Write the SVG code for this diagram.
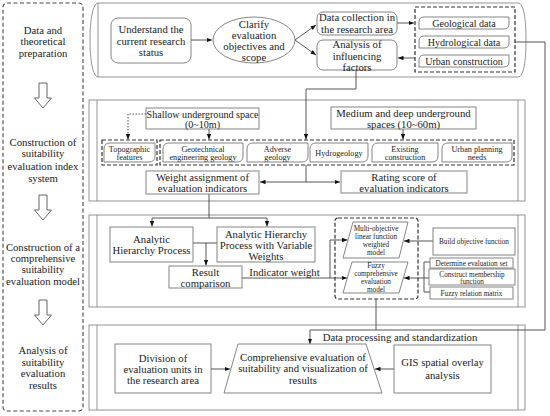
<svg xmlns="http://www.w3.org/2000/svg" width="550" height="416" viewBox="0 0 550 416">
<defs>
<style>
.bg{fill:#fff}
.box{fill:#fff;stroke:#777;stroke-width:0.9}
.sec{fill:#fff;stroke:#888;stroke-width:0.9}
.dash{fill:none;stroke:#333;stroke-width:1.2;stroke-dasharray:4,2}
.c{fill:none;stroke:#444;stroke-width:0.9}
.dot{fill:none;stroke:#444;stroke-width:0.9;stroke-dasharray:1.5,1.5}
.t{font-family:"Liberation Serif",serif;font-size:10.7px;fill:#222;text-anchor:middle}
.m{font-size:10.1px}
.s{font-size:8.2px}
.xs{font-size:7.2px}
</style>
<marker id="ah" viewBox="0 0 10 10" refX="10" refY="5" markerWidth="5.5" markerHeight="5.5" orient="auto" markerUnits="userSpaceOnUse">
<path d="M0,1 L10,5 L0,9 Z" fill="#111"/>
</marker>
</defs>
<rect class="bg" x="0" y="0" width="550" height="416"/>

<g id="stages">
<rect x="3" y="3" width="80" height="408" rx="4" fill="none" stroke="#444" stroke-width="1.1" stroke-dasharray="4,2.5"/>
<text class="t"><tspan x="43" y="33.5">Data and</tspan><tspan x="43" y="45">theoretical</tspan><tspan x="43" y="56.5">preparation</tspan></text>
<text class="t"><tspan x="43" y="145.5">Construction of</tspan><tspan x="43" y="157">suitability</tspan><tspan x="43" y="169.5">evaluation index</tspan><tspan x="43" y="181.5">system</tspan></text>
<text class="t"><tspan x="43" y="250.5">Construction of a</tspan><tspan x="43" y="261.5">comprehensive</tspan><tspan x="43" y="272.5">suitability</tspan><tspan x="43" y="284.5">evaluation model</tspan></text>
<text class="t"><tspan x="43" y="353.5">Analysis of</tspan><tspan x="43" y="365.5">suitability</tspan><tspan x="43" y="376.5">evaluation</tspan><tspan x="43" y="388.5">results</tspan></text>
<path d="M39,83 H47 V98 H51.5 L43,108 L34.5,98 H39 Z" fill="#fff" stroke="#555" stroke-width="0.9"/>
<path d="M39,195 H47 V210 H51.5 L43,220 L34.5,210 H39 Z" fill="#fff" stroke="#555" stroke-width="0.9"/>
<path d="M39,300 H47 V315 H51.5 L43,325 L34.5,315 H39 Z" fill="#fff" stroke="#555" stroke-width="0.9"/>
</g>

<g id="section1">
<path class="sec" d="M98,3 H518 C524,3 526,20 526,40 C526,60 524,77 518,77 H98 C93,77 90,60 90,40 C90,20 93,3 98,3 Z"/>
<line x1="98" y1="3" x2="98" y2="77" stroke="#888" stroke-width="0.9"/>
</g>
<g id="section2">
<rect class="sec" x="89" y="100" width="436" height="101"/>
<line x1="97" y1="100" x2="97" y2="201" stroke="#888" stroke-width="0.9"/>
<line x1="518" y1="100" x2="518" y2="201" stroke="#888" stroke-width="0.9"/>
</g>
<g id="section3">
<rect class="sec" x="89" y="215" width="436" height="92"/>
<line x1="97" y1="215" x2="97" y2="307" stroke="#888" stroke-width="0.9"/>
<line x1="518" y1="215" x2="518" y2="307" stroke="#888" stroke-width="0.9"/>
</g>
<g id="section4">
<rect class="sec" x="89" y="325" width="436" height="85"/>
<line x1="97" y1="325" x2="97" y2="410" stroke="#888" stroke-width="0.9"/>
<line x1="518" y1="325" x2="518" y2="410" stroke="#888" stroke-width="0.9"/>
</g>

<g id="connectors">
<line class="c" x1="191" y1="40" x2="212" y2="40" marker-end="url(#ah)"/>
<line class="c" x1="295" y1="40" x2="316" y2="25" marker-end="url(#ah)"/>
<line class="c" x1="295" y1="40" x2="316" y2="55" marker-end="url(#ah)"/>
<line class="c" x1="397" y1="23" x2="414" y2="23" marker-end="url(#ah)"/>
<line class="c" x1="415" y1="58" x2="398" y2="58" marker-end="url(#ah)"/>
<polyline class="c" points="515,42 545,42 545,330 310,330 310,344" marker-end="url(#ah)"/>
<polyline class="c" points="356,70 356,89 306,89 306,139.5" marker-end="url(#ah)"/>
<polyline class="dot" points="146,114 128,114 128,139.5" marker-end="url(#ah)"/>
<line class="c" x1="209" y1="129" x2="209" y2="139.5" marker-end="url(#ah)"/>
<line class="c" x1="403" y1="129" x2="403" y2="139.5" marker-end="url(#ah)"/>
<line class="c" x1="306" y1="165" x2="306" y2="182"/>
<line class="c" x1="306" y1="182" x2="260" y2="182" marker-end="url(#ah)"/>
<line class="c" x1="306" y1="182" x2="340" y2="182" marker-end="url(#ah)"/>
<line class="c" x1="209" y1="194" x2="209" y2="218"/>
<line class="c" x1="152" y1="218" x2="267" y2="218"/>
<line class="c" x1="152" y1="218" x2="152" y2="226.5" marker-end="url(#ah)"/>
<line class="c" x1="267" y1="218" x2="267" y2="226.5" marker-end="url(#ah)"/>
<line class="c" x1="193" y1="243" x2="217" y2="243"/>
<line class="c" x1="206" y1="243" x2="206" y2="265.5" marker-end="url(#ah)"/>
<line class="c" x1="242" y1="278" x2="347" y2="278" marker-end="url(#ah)"/>
<polyline class="c" points="330,278 330,240 347.5,240" marker-end="url(#ah)"/>
<line class="c" x1="433" y1="241" x2="404" y2="241" marker-end="url(#ah)"/>
<polyline class="c" points="430,262 424,262 424,292 430,292"/>
<line class="c" x1="429" y1="278" x2="404" y2="278" marker-end="url(#ah)"/>
<line class="c" x1="376" y1="299" x2="376" y2="330"/>
<line class="c" x1="211" y1="369" x2="230" y2="369" marker-end="url(#ah)"/>
<line class="c" x1="394" y1="369" x2="375" y2="369" marker-end="url(#ah)"/>
</g>

<g id="n-understand">
<rect class="box" x="111" y="18" width="80" height="45" rx="7"/>
<text class="t"><tspan x="151" y="33">Understand the</tspan><tspan x="151" y="44.5">current research</tspan><tspan x="151" y="56">status</tspan></text>
</g>
<g id="n-clarify">
<ellipse class="box" cx="254" cy="40" rx="41" ry="23"/>
<text class="t"><tspan x="254" y="27.5">Clarify</tspan><tspan x="254" y="38.5">evaluation</tspan><tspan x="254" y="49.5">objectives and</tspan><tspan x="254" y="60.5">scope</tspan></text>
</g>
<g id="n-datacollection">
<rect class="box" x="317" y="12" width="80" height="23" rx="6"/>
<text class="t"><tspan x="357" y="21">Data collection in</tspan><tspan x="357" y="32.5">the research area</tspan></text>
</g>
<g id="n-analysis">
<rect class="box" x="317" y="40" width="80" height="30" rx="6"/>
<text class="t"><tspan x="357" y="47.5">Analysis of</tspan><tspan x="357" y="59.5">influencing</tspan><tspan x="357" y="70.5">factors</tspan></text>
</g>
<g id="n-datagroup">
<rect class="dash" x="415" y="7" width="100" height="65"/>
<path class="box" d="M419,22 Q419,17 424,17 H509 V24 Q509,29 504,29 H419 Z"/>
<text class="t m" x="464" y="26.7">Geological data</text>
<path class="box" d="M419,41 Q419,36 424,36 H509 V43 Q509,48 504,48 H419 Z"/>
<text class="t m" x="464" y="45.7">Hydrological data</text>
<path class="box" d="M419,60 Q419,55 424,55 H509 V62 Q509,67 504,67 H419 Z"/>
<text class="t m" x="464" y="64.7">Urban construction</text>
</g>

<g id="n-shallow">
<rect class="box" x="146" y="108" width="113" height="21"/>
<text class="t m"><tspan x="202.5" y="117.5">Shallow underground space</tspan><tspan x="202.5" y="128">(0~10m)</tspan></text>
</g>
<g id="n-medium">
<rect class="box" x="331" y="107" width="145" height="22"/>
<text class="t"><tspan x="403.5" y="117">Medium and deep underground</tspan><tspan x="403.5" y="128">spaces (10~60m)</tspan></text>
</g>
<g id="n-topographic">
<rect class="dash" x="102" y="140" width="55" height="25"/>
<path class="box" d="M104,149 Q104,143 110,143 H155 V156 Q155,162 149,162 H104 Z"/>
<text class="t s"><tspan x="129.5" y="151.5">Topographic</tspan><tspan x="129.5" y="160">features</tspan></text>
</g>
<g id="n-factors">
<rect class="dash" x="160" y="140" width="354" height="25"/>
<path class="box" d="M163,149 Q163,143 169,143 H243 V156 Q243,162 237,162 H163 Z"/>
<text class="t s"><tspan x="203" y="151.5">Geotechnical</tspan><tspan x="203" y="160">engineering geology</tspan></text>
<path class="box" d="M247,149 Q247,143 253,143 H308 V156 Q308,162 302,162 H247 Z"/>
<text class="t s"><tspan x="277.5" y="151.5">Adverse</tspan><tspan x="277.5" y="160">geology</tspan></text>
<path class="box" d="M310,149 Q310,143 316,143 H368 V156 Q368,162 362,162 H310 Z"/>
<text class="t s" x="339" y="155.5">Hydrogeology</text>
<path class="box" d="M372,149 Q372,143 378,143 H438 V156 Q438,162 432,162 H372 Z"/>
<text class="t s"><tspan x="405" y="151.5">Existing</tspan><tspan x="405" y="160">construction</tspan></text>
<path class="box" d="M442,149 Q442,143 448,143 H512 V156 Q512,162 506,162 H442 Z"/>
<text class="t s"><tspan x="477" y="151.5">Urban planning</tspan><tspan x="477" y="160">needs</tspan></text>
</g>
<g id="n-weight">
<rect class="box" x="146" y="171" width="113" height="23"/>
<text class="t"><tspan x="202.5" y="180.5">Weight assignment of</tspan><tspan x="202.5" y="191.5">evaluation indicators</tspan></text>
</g>
<g id="n-rating">
<rect class="box" x="341" y="171" width="126" height="22"/>
<text class="t"><tspan x="404" y="180.5">Rating score of</tspan><tspan x="404" y="191.5">evaluation indicators</tspan></text>
</g>

<g id="n-ahp">
<rect class="box" x="110" y="227" width="83" height="35"/>
<text class="t"><tspan x="151.5" y="242.5">Analytic</tspan><tspan x="151.5" y="254">Hierarchy Process</tspan></text>
</g>
<g id="n-ahpvw">
<rect class="box" x="217" y="227" width="98" height="35"/>
<text class="t"><tspan x="266" y="237.5">Analytic Hierarchy</tspan><tspan x="266" y="248.5">Process with Variable</tspan><tspan x="266" y="259.5">Weights</tspan></text>
</g>
<g id="n-result">
<rect class="box" x="169" y="266" width="73" height="22"/>
<text class="t"><tspan x="205.5" y="275.5">Result</tspan><tspan x="205.5" y="286.5">comparison</tspan></text>
</g>
<g id="l-indicator">
<text class="t" x="284.5" y="275.5">Indicator weight</text>
</g>
<g id="n-models">
<rect class="dash" x="335" y="218" width="83" height="81" rx="3"/>
<polygon class="box" points="353,222 408,222 399,258 343,258"/>
<text class="t xs"><tspan x="376" y="230.5">Multi-objective</tspan><tspan x="376" y="238.5">linear function</tspan><tspan x="376" y="246.5">weighted</tspan><tspan x="376" y="254.5">model</tspan></text>
<polygon class="box" points="352,262 408,262 399,293 343,293"/>
<text class="t xs"><tspan x="376" y="267.5">Fuzzy</tspan><tspan x="376" y="275.5">comprehensive</tspan><tspan x="376" y="283.5">evaluation</tspan><tspan x="376" y="291.5">model</tspan></text>
</g>
<g id="n-build">
<rect class="box" x="433" y="228" width="82" height="27"/>
<text class="t xs" x="474" y="244">Build objective function</text>
</g>
<g id="n-determine">
<rect class="box" x="430" y="258" width="83" height="10"/>
<text class="t xs" x="471.5" y="265.5">Determine evaluation set</text>
</g>
<g id="n-construct">
<rect class="box" x="429" y="269" width="86" height="16"/>
<text class="t xs"><tspan x="472" y="276.5">Construct membership</tspan><tspan x="472" y="283.5">function</tspan></text>
</g>
<g id="n-fuzzyrel">
<rect class="box" x="430" y="287" width="83" height="12"/>
<text class="t xs" x="471.5" y="295.5">Fuzzy relation matrix</text>
</g>

<g id="l-dataproc">
<text class="t" x="400" y="340.5">Data processing and standardization</text>
</g>
<g id="n-division">
<rect class="box" x="115" y="344" width="96" height="49"/>
<text class="t"><tspan x="163" y="361.5">Division of</tspan><tspan x="163" y="372.5">evaluation units in</tspan><tspan x="163" y="383.5">the research area</tspan></text>
</g>
<g id="n-comprehensive">
<polygon class="box" points="238,344 366,344 382,393 224,393"/>
<text class="t"><tspan x="303" y="360.5">Comprehensive evaluation of</tspan><tspan x="303" y="372">suitability and visualization of</tspan><tspan x="303" y="383.5">results</tspan></text>
</g>
<g id="n-gis">
<rect class="box" x="394" y="345" width="97" height="48"/>
<text class="t"><tspan x="442.5" y="365.5">GIS spatial overlay</tspan><tspan x="442.5" y="378.5">analysis</tspan></text>
</g>
</svg>
